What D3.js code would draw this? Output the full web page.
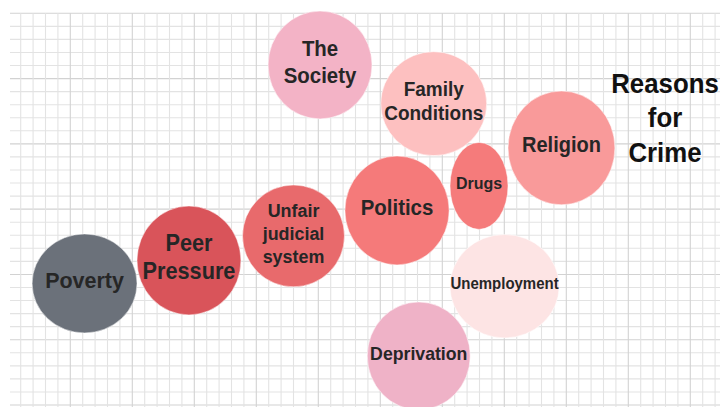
<!DOCTYPE html>
<html>
<head>
<meta charset="utf-8">
<script src="https://cdn.jsdelivr.net/npm/d3@7"></script>
<style>
  html, body { margin: 0; padding: 0; background: #ffffff; }
  svg { display: block; }
  text { font-family: "Liberation Sans", Arial, sans-serif; font-weight: bold; }
</style>
</head>
<body>
<svg id="chart" width="720" height="407"></svg>
<script>
// ---- data ----
const categories = ["Poverty", "Peer Pressure", "Unfair judicial system", "Politics", "Drugs",
                    "Religion", "Family Conditions", "The Society", "Unemployment", "Deprivation"];
const labelLines = [["Poverty"], ["Peer", "Pressure"], ["Unfair", "judicial", "system"], ["Politics"], ["Drugs"],
                    ["Religion"], ["Family", "Conditions"], ["The", "Society"], ["Unemployment"], ["Deprivation"]];
// bubble centres and radii, in grid-cell units
const posX    = [6.15, 14.57, 23.00, 31.35, 37.96, 44.61, 34.31, 25.14, 40.02, 33.10];
const posY    = [20.69, 18.93, 17.05, 15.10, 13.22, 10.31, 6.92, 3.96, 20.90, 26.24];
const radiusX = [4.23, 4.19, 4.11, 4.20, 2.34, 4.31, 4.27, 4.19, 4.40, 4.15];
const radiusY = [3.79, 4.17, 3.90, 4.17, 3.33, 4.36, 3.98, 4.13, 3.96, 4.13];
const titleLines = ["Reasons", "for", "Crime"];
const gridCols = d3.range(1, 58);
const gridRows = d3.range(0, 31);

// ---- styles ----
const colors = ["#6b717a", "#d9545a", "#e86a6c", "#f57a7a", "#f57b7b",
                "#f99a9a", "#fdc0c0", "#f3b3c6", "#fde4e4", "#efb2c7"];
const fontSizes = [21.5, 21.7, 17.9, 20.4, 16, 20, 19, 20.4, 15, 17.7];

const svg = d3.select("#chart");
const x = d3.scaleLinear().domain([0, 50]).range([8.3, 8.3 + 620]);
const y = d3.scaleLinear().domain([0, 30]).range([13.3, 405]);
const stretch = 1.06;

// grid
const grid = svg.append("g");
grid.selectAll("line.h").data(gridRows).join("line")
  .attr("x1", 10).attr("x2", 720)
  .attr("y1", d => y(d)).attr("y2", d => y(d))
  .attr("stroke", d => d % 5 === 0 ? "#d2d2d2" : "#e3e3e3")
  .attr("stroke-width", 1.1);
grid.selectAll("line.v").data(gridCols).join("line")
  .attr("y1", y(0)).attr("y2", 407)
  .attr("x1", d => x(d)).attr("x2", d => x(d))
  .attr("stroke", d => d % 5 === 0 ? "#d2d2d2" : "#e3e3e3")
  .attr("stroke-width", 1.1);

// bubbles
const items = categories.map((c, i) => ({
  name: c, lines: labelLines[i], cx: posX[i], cy: posY[i],
  rx: radiusX[i], ry: radiusY[i], color: colors[i], fs: fontSizes[i]
}));

const g = svg.append("g");
g.selectAll("ellipse").data(items).join("ellipse")
  .attr("cx", d => x(d.cx)).attr("cy", d => y(d.cy))
  .attr("rx", d => x(d.rx) - x(0)).attr("ry", d => y(d.ry) - y(0))
  .attr("fill", d => d.color)
  .attr("stroke", "#ffffff").attr("stroke-opacity", 0.5).attr("stroke-width", 1);

items.forEach(d => {
  const n = d.lines.length;
  const lh = d.fs * 1.28;
  d.lines.forEach((t, i) => {
    const by = y(d.cy) + (i - (n - 1) / 2) * lh + 0.22 * d.fs;
    g.append("text")
      .attr("transform", `translate(${x(d.cx)},${by}) scale(1,${stretch})`)
      .attr("text-anchor", "middle")
      .attr("font-size", d.fs)
      .attr("fill", "#262626")
      .text(t);
  });
});

// title
const titleBase = [92.5, 127, 161.5];
titleLines.forEach((t, i) => {
  svg.append("text")
    .attr("transform", `translate(665,${titleBase[i]}) scale(1,${stretch})`)
    .attr("text-anchor", "middle")
    .attr("font-size", 25.8)
    .attr("fill", "#111111")
    .text(t);
});
</script>
</body>
</html>
